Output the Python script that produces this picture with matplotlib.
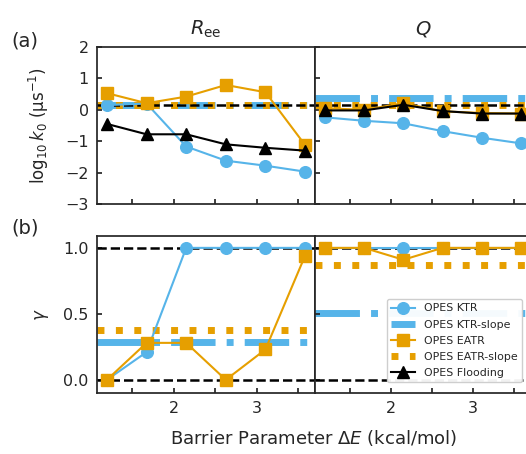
import numpy as np
import matplotlib
matplotlib.use("Agg")
import matplotlib.pyplot as plt

# ---- data ----
barrier = [1.195, 1.673, 2.151, 2.629, 3.107, 3.585]  # kcal/mol

# (a) log10 k0
ree_ktr = [0.15, 0.20, -1.17, -1.62, -1.78, -1.97]
ree_eatr = [0.53, 0.21, 0.42, 0.79, 0.56, -1.12]
ree_flood = [-0.45, -0.78, -0.78, -1.10, -1.21, -1.30]
ree_ktr_slope = 0.15
ree_eatr_slope = 0.15

q_ktr = [-0.24, -0.35, -0.43, -0.68, -0.89, -1.07]
q_eatr = [0.05, 0.00, 0.21, -0.05, -0.10, -0.12]
q_flood = [-0.02, -0.02, 0.16, -0.04, -0.12, -0.12]
q_ktr_slope = 0.37
q_eatr_slope = 0.15

ref_logk = 0.15

# (b) gamma
ree_ktr_g = [0.0, 0.21, 1.0, 1.0, 1.0, 1.0]
ree_eatr_g = [0.0, 0.28, 0.28, 0.0, 0.23, 0.94]
ree_ktr_g_slope = 0.285
ree_eatr_g_slope = 0.38

q_ktr_g = [1.0, 1.0, 1.0, 1.0, 1.0, 1.0]
q_eatr_g = [1.0, 1.0, 0.91, 1.0, 1.0, 1.0]
q_ktr_g_slope = 0.51
q_eatr_g_slope = 0.87

BLUE = "#56B4E9"
ORANGE = "#E69F00"
DARK = "#262626"

plt.rcParams.update({
    "font.family": "DejaVu Sans",
    "font.size": 11.5,
    "text.color": DARK,
    "axes.labelcolor": DARK,
    "axes.edgecolor": DARK,
    "axes.linewidth": 1.25,
    "xtick.color": DARK,
    "ytick.color": DARK,
    "xtick.direction": "in",
    "ytick.direction": "in",
    "xtick.major.size": 3.5,
    "ytick.major.size": 3.5,
    "xtick.major.width": 1.25,
    "ytick.major.width": 1.25,
    "xtick.major.pad": 6,
    "ytick.major.pad": 6,
    "xtick.labelsize": 11.5,
    "ytick.labelsize": 11.5,
})

W, H = 526, 454
fig = plt.figure(figsize=(W / 100, H / 100), dpi=100)

def px_axes(x0, y0, x1, y1):
    return fig.add_axes([x0 / W, 1 - y1 / H, (x1 - x0) / W, (y1 - y0) / H])

ax_a1 = px_axes(97, 47, 315, 204)
ax_a2 = px_axes(315, 47, 531, 204)
ax_b1 = px_axes(97, 236, 315, 393)
ax_b2 = px_axes(315, 236, 531, 393)

def draw(ax, ktr, eatr, ktr_s, eatr_s, flood=None, refs=()):
    ax.axhline(ktr_s, color=BLUE, lw=5, ls="-.", zorder=1, label="OPES KTR-slope")
    ax.axhline(eatr_s, color=ORANGE, lw=5, ls=":", zorder=1.5, label="OPES EATR-slope")
    for r in refs:
        ax.axhline(r, color="black", lw=1.8, ls="--", zorder=2)
    ax.plot(barrier, ktr, color=BLUE, marker="o", ms=8.4, lw=1.5, zorder=3, label="OPES KTR")
    ax.plot(barrier, eatr, color=ORANGE, marker="s", ms=8.2, lw=1.5, zorder=4, label="OPES EATR")
    if flood is not None:
        ax.plot(barrier, flood, color="black", marker="^", ms=8.4, lw=1.5, zorder=5, label="OPES Flooding")
    ax.set_xlim(1.075, 3.705)
    ax.set_xticks([1.5, 2, 2.5, 3, 3.5])
    ax.set_xticklabels(["", "2", "", "3", ""])

draw(ax_a1, ree_ktr, ree_eatr, ree_ktr_slope, ree_eatr_slope, ree_flood, refs=[ref_logk])
draw(ax_a2, q_ktr, q_eatr, q_ktr_slope, q_eatr_slope, q_flood, refs=[ref_logk])
draw(ax_b1, ree_ktr_g, ree_eatr_g, ree_ktr_g_slope, ree_eatr_g_slope, refs=[0, 1])
draw(ax_b2, q_ktr_g, q_eatr_g, q_ktr_g_slope, q_eatr_g_slope, refs=[0, 1])

for ax in (ax_a1, ax_a2):
    ax.set_ylim(-3, 2)
    ax.set_yticks([-3, -2, -1, 0, 1, 2])
    ax.tick_params(labelbottom=False)
for ax in (ax_b1, ax_b2):
    ax.set_ylim(-0.1, 1.09)
    ax.set_yticks([0, 0.5, 1.0])
for ax in (ax_a2, ax_b2):
    ax.tick_params(labelleft=False)
ax_b1.set_yticklabels(["0.0", "0.5", "1.0"])

ax_a1.set_ylabel(r"$\log_{10}k_0$ ($\mathrm{\mu}$s$^{-1}$)", fontsize=12)
ax_b1.set_ylabel(r"$\gamma$", fontsize=12)
ax_a1.yaxis.set_label_coords((51 - 97) / 218, 0.5)
ax_b1.yaxis.set_label_coords((51 - 97) / 218, 0.5)
ax_a1.set_title(r"$R_{\mathrm{ee}}$", fontsize=14, pad=9)
ax_a2.set_title(r"$Q$", fontsize=14, pad=9)

fig.text(11 / W, 1 - 41 / H, "(a)", fontsize=14, va="center", ha="left")
fig.text(11 / W, 1 - 228 / H, "(b)", fontsize=14, va="center", ha="left")
fig.text(314 / W, 1 - 438 / H, r"Barrier Parameter $\Delta E$ (kcal/mol)", fontsize=13,
         ha="center", va="center")

handles, labels = ax_a2.get_legend_handles_labels()
order = ["OPES KTR", "OPES KTR-slope", "OPES EATR", "OPES EATR-slope", "OPES Flooding"]
hmap = dict(zip(labels, handles))
ax_b2.legend([hmap[l] for l in order], order, loc="lower right", fontsize=7.9,
             bbox_to_anchor=(522 / W, 1 - 382 / H), bbox_transform=fig.transFigure,
             borderaxespad=0, framealpha=0.95, labelspacing=0.55, handlelength=2.2)

fig.savefig("out.png", dpi=100)
